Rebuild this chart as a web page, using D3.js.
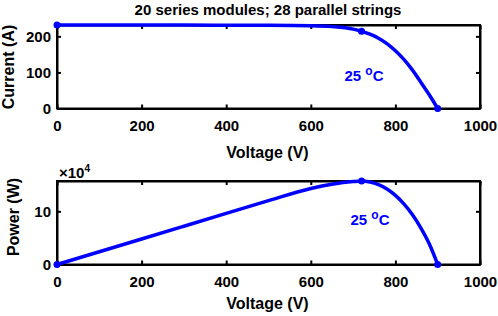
<!DOCTYPE html>
<html>
<head>
<meta charset="utf-8">
<script src="https://cdn.jsdelivr.net/npm/d3@7"></script>
<style>
  body { margin: 0; background: #fff; }
  svg text { font-family: "Liberation Sans", Arial, sans-serif; font-weight: bold; }
</style>
</head>
<body>
<svg width="498" height="316"></svg>
<script>
// voltage samples (V)
const VOLTAGE = [0, 100, 200, 300, 400, 500, 600, 650, 700, 720, 740, 760, 780, 800, 820, 840, 860, 880, 900];
// current (A)
const CURRENT = [231.5, 231.4, 231.3, 231.2, 231, 230.7, 229.5, 227, 220, 214, 206, 195, 180, 160, 136, 107, 73, 38, 0];
// power (x1e4 W)
const POWER = [0, 2.4, 4.8, 7.2, 9.6, 12.0, 14.3, 15.1, 15.6, 15.7, 15.5, 15.0, 14.2, 13.0, 11.4, 9.4, 6.9, 3.9, 0];
// marked points: start, max power point, open circuit
const MARKED = [0, 9, 18];

const X_TICKS = [0, 200, 400, 600, 800, 1000];
const I_TICKS = [0, 100, 200];
const P_TICKS = [0, 10];

const TITLE = '20 series modules; 28 parallel strings';
const BLUE = '#0000ff';

const svg = d3.select('svg');

const LEFT = 57, RIGHT = 480;

function panel(top, bottom, yVals, yMax, yTicks, yLabel, xLabelY, note) {
  const g = svg.append('g');
  const x = d3.scaleLinear().domain([0, 1000]).range([LEFT, RIGHT]);
  const y = d3.scaleLinear().domain([0, yMax]).range([bottom, top]);

  // bottom axis with labels
  g.append('g')
    .attr('transform', `translate(0,${bottom})`)
    .call(d3.axisBottom(x).tickValues(X_TICKS).tickFormat(d3.format('d'))
      .tickSize(-4).tickSizeOuter(0).tickPadding(11.5))
    .call(a => a.selectAll('text').attr('font-size', 15).attr('fill', '#000'));
  // top axis, ticks only
  g.append('g')
    .attr('transform', `translate(0,${top})`)
    .call(d3.axisTop(x).tickValues(X_TICKS).tickSize(-4).tickSizeOuter(0).tickFormat(''));
  // left axis
  g.append('g')
    .attr('transform', `translate(${LEFT},0)`)
    .call(d3.axisLeft(y).tickValues(yTicks).tickSize(-4).tickSizeOuter(0).tickPadding(6))
    .call(a => a.selectAll('text').attr('font-size', 15).attr('fill', '#000'));
  // right axis, ticks only
  g.append('g')
    .attr('transform', `translate(${RIGHT},0)`)
    .call(d3.axisRight(y).tickValues(yTicks).tickSize(-4).tickSizeOuter(0).tickFormat(''));

  g.selectAll('.domain, .tick line').attr('stroke', '#000').attr('stroke-width', 2);

  // box
  g.append('rect')
    .attr('x', LEFT).attr('y', top)
    .attr('width', RIGHT - LEFT).attr('height', bottom - top)
    .attr('fill', 'none').attr('stroke', '#000').attr('stroke-width', 2);

  // curve
  const line = d3.line()
    .x((d, i) => x(VOLTAGE[i]))
    .y(d => y(d))
    .curve(d3.curveMonotoneX);

  g.append('path')
    .datum(yVals)
    .attr('d', line)
    .attr('fill', 'none')
    .attr('stroke', BLUE)
    .attr('stroke-width', 3.5);

  g.selectAll('.mark')
    .data(MARKED)
    .enter()
    .append('circle')
    .attr('cx', i => x(VOLTAGE[i]))
    .attr('cy', i => y(yVals[i]))
    .attr('r', 3.5)
    .attr('fill', BLUE);

  // x label
  g.append('text')
    .text('Voltage (V)')
    .attr('x', (LEFT + RIGHT) / 2 - 1)
    .attr('y', xLabelY)
    .attr('text-anchor', 'middle')
    .attr('font-size', 16);

  // y label
  g.append('text')
    .text(yLabel.text)
    .attr('transform', `translate(${yLabel.x},${yLabel.y}) rotate(-90)`)
    .attr('text-anchor', 'middle')
    .attr('font-size', 16);

  // temperature note
  const t = g.append('text')
    .attr('x', note.x)
    .attr('y', note.y)
    .attr('text-anchor', 'middle')
    .attr('font-size', 15)
    .attr('fill', BLUE);
  t.append('tspan').text('25 ');
  t.append('tspan').text('o').attr('font-size', 12).attr('dy', -6);
  t.append('tspan').text('C').attr('dy', 6);

  return g;
}

// title
svg.append('text')
  .text(TITLE)
  .attr('x', 268)
  .attr('y', 15)
  .attr('text-anchor', 'middle')
  .attr('font-size', 15);

panel(25, 108.5, CURRENT, 231.5, I_TICKS, {text: 'Current (A)', x: 14, y: 67}, 158,
  {x: 364, y: 81});
const bottomPanel = panel(181, 264.5, POWER, 15.7, P_TICKS, {text: 'Power (W)', x: 19, y: 217}, 309,
  {x: 370, y: 225});

// exponent label
const ex = bottomPanel.append('text')
  .attr('x', 59)
  .attr('y', 178)
  .attr('font-size', 15)
  .attr('font-weight', 'normal');
ex.append('tspan').text('\u00d710');
ex.append('tspan').text('4').attr('font-size', 10).attr('dy', -6);
</script>
</body>
</html>
